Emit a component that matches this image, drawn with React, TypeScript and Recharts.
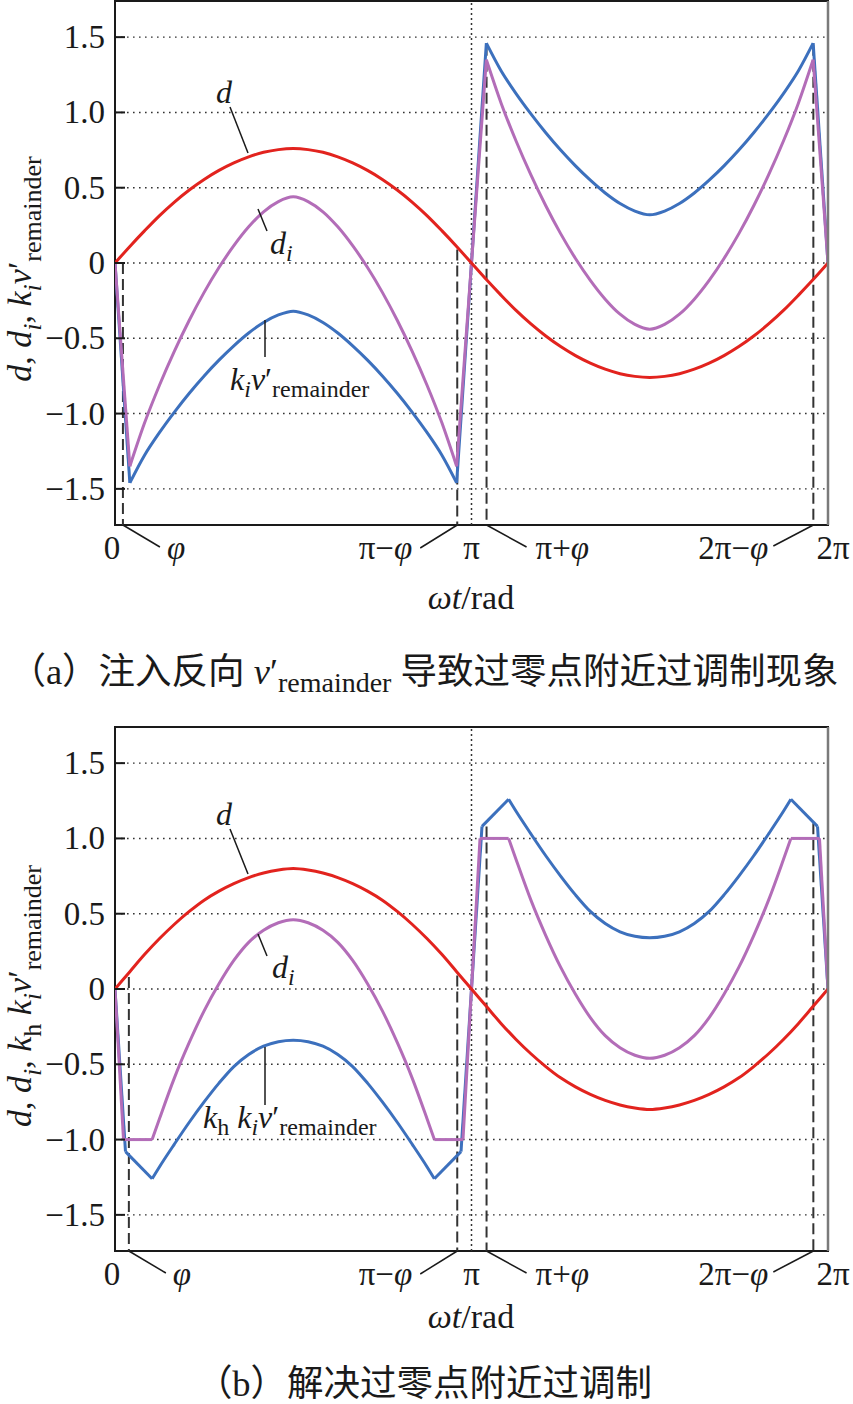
import React from "react";
import {
  LineChart,
  Line,
  XAxis,
  YAxis,
  CartesianGrid,
  ReferenceLine,
  ReferenceArea,
} from "recharts";

const SERIF =
  "'Liberation Serif', 'Times New Roman', Tinos, 'DejaVu Serif', 'Noto Serif', serif";
const CAPTION_FONT =
  "'Liberation Serif', 'Times New Roman', 'DejaVu Serif', 'Noto Sans CJK SC', serif";
const RED = "#e2231e";
const PURPLE = "#b36db8";
const BLUE = "#3c70bd";
const INK = "#1a1a1a";

const Y_MIN = -1.74;
const Y_MAX = 1.74;
const yTicks = [-1.5, -1, -0.5, 0, 0.5, 1, 1.5];
const yTickLabels = ["−1.5", "−1.0", "−0.5", "0", "0.5", "1.0", "1.5"];
const xTickLabels = ["0", "φ", "π−φ", "π", "π+φ", "2π−φ", "2π"];
const xTicksA = [0, 4, 172.8, 180, 187.6, 352.6, 360];
const xTicksB = [0, 7, 172.8, 180, 187.6, 352.6, 360];
// upper end of each dashed marker (lower end is the axis)
const dashTopA = [0, 0.09, 1.45, 1.45];
const dashTopB = [0.08, 0.09, 1.08, 1.1];

// ωt in degrees
const xGrid = [
  0, 7.5, 15, 22.5, 30, 37.5, 45, 52.5, 60, 67.5, 75, 82.5, 90, 97.5, 105,
  112.5, 120, 127.5, 135, 142.5, 150, 157.5, 165, 172.5, 180, 187.5, 195,
  202.5, 210, 217.5, 225, 232.5, 240, 247.5, 255, 262.5, 270, 277.5, 285,
  292.5, 300, 307.5, 315, 322.5, 330, 337.5, 345, 352.5, 360,
];

// panel (a)
const dA = [
  0, 0.11, 0.215, 0.315, 0.405, 0.485, 0.555, 0.615, 0.665, 0.705, 0.735,
  0.753, 0.76, 0.753, 0.735, 0.705, 0.665, 0.615, 0.555, 0.485, 0.405, 0.315,
  0.215, 0.11, 0, -0.11, -0.215, -0.315, -0.405, -0.485, -0.555, -0.615, -0.665,
  -0.705, -0.735, -0.753, -0.76, -0.753, -0.735, -0.705, -0.665, -0.615, -0.555,
  -0.485, -0.405, -0.315, -0.215, -0.11, 0,
];
const diA = [
  0, -1.35, -1.06, -0.81, -0.585, -0.38, -0.195, -0.03, 0.115, 0.24, 0.34,
  0.408, 0.44, 0.408, 0.34, 0.24, 0.115, -0.03, -0.195, -0.38, -0.585, -0.81,
  -1.06, -1.35, 0, 1.35, 1.06, 0.81, 0.585, 0.38, 0.195, 0.03, -0.115, -0.24,
  -0.34, -0.408, -0.44, -0.408, -0.34, -0.24, -0.115, 0.03, 0.195, 0.38, 0.585,
  0.81, 1.06, 1.35, 0,
];
const kvA = [
  0, -1.46, -1.275, -1.125, -0.99, -0.865, -0.75, -0.645, -0.55, -0.465,
  -0.395, -0.345, -0.32, -0.345, -0.395, -0.465, -0.55, -0.645, -0.75, -0.865,
  -0.99, -1.125, -1.275, -1.46, 0, 1.46, 1.275, 1.125, 0.99, 0.865, 0.75, 0.645,
  0.55, 0.465, 0.395, 0.345, 0.32, 0.345, 0.395, 0.465, 0.55, 0.645, 0.75,
  0.865, 0.99, 1.125, 1.275, 1.46, 0,
];
const cornersA = [1, 23, 25, 47];

// panel (b)
const dB = [
  0, 0.115, 0.23, 0.335, 0.43, 0.515, 0.59, 0.65, 0.7, 0.74, 0.77, 0.79, 0.8,
  0.79, 0.77, 0.74, 0.7, 0.65, 0.59, 0.515, 0.43, 0.335, 0.23, 0.115, 0, -0.115,
  -0.23, -0.335, -0.43, -0.515, -0.59, -0.65, -0.7, -0.74, -0.77, -0.79, -0.8,
  -0.79, -0.77, -0.74, -0.7, -0.65, -0.59, -0.515, -0.43, -0.335, -0.23, -0.115,
  0,
];
const diBx = [
  0, 4.3, 18.75, 22.5, 30, 37.5, 45, 52.5, 60, 67.5, 75, 82.5, 90, 97.5, 105,
  112.5, 120, 127.5, 135, 142.5, 150, 157.5, 161.25, 175.7, 180, 184.3, 198.75,
  202.5, 210, 217.5, 225, 232.5, 240, 247.5, 255, 262.5, 270, 277.5, 285, 292.5,
  300, 307.5, 315, 322.5, 330, 337.5, 341.25, 355.7, 360,
];
const diB = [
  0, -1, -1, -0.86, -0.59, -0.355, -0.145, 0.035, 0.19, 0.31, 0.39, 0.44, 0.46,
  0.44, 0.39, 0.31, 0.19, 0.035, -0.145, -0.355, -0.59, -0.86, -1, -1, 0, 1, 1,
  0.86, 0.59, 0.355, 0.145, -0.035, -0.19, -0.31, -0.39, -0.44, -0.46, -0.44,
  -0.39, -0.31, -0.19, -0.035, 0.145, 0.355, 0.59, 0.86, 1, 1, 0,
];
const kvBx = [
  0, 5.3, 18.75, 22.5, 30, 37.5, 45, 52.5, 60, 67.5, 75, 82.5, 90, 97.5, 105,
  112.5, 120, 127.5, 135, 142.5, 150, 157.5, 161.25, 174.7, 180, 185.3, 198.75,
  202.5, 210, 217.5, 225, 232.5, 240, 247.5, 255, 262.5, 270, 277.5, 285, 292.5,
  300, 307.5, 315, 322.5, 330, 337.5, 341.25, 354.7, 360,
];
const kvB = [
  0, -1.08, -1.26, -1.18, -1.03, -0.885, -0.75, -0.625, -0.515, -0.435, -0.38,
  -0.35, -0.34, -0.35, -0.38, -0.435, -0.515, -0.625, -0.75, -0.885, -1.03,
  -1.18, -1.26, -1.08, 0, 1.08, 1.26, 1.18, 1.03, 0.885, 0.75, 0.625, 0.515,
  0.435, 0.38, 0.35, 0.34, 0.35, 0.38, 0.435, 0.515, 0.625, 0.75, 0.885, 1.03,
  1.18, 1.26, 1.08, 0,
];
const cornersB = [1, 2, 22, 23, 25, 26, 46, 47];

type Pt = { x: number; y: number };
const pts = (xs: number[], ys: number[]): Pt[] =>
  xs.map((x, i) => ({ x, y: ys[i] }));

// split a series at its kinks so the smooth arches stay smooth and the kinks stay sharp
function pieces(data: Pt[], corners: number[]): Pt[][] {
  const cuts = [0, ...corners, data.length - 1];
  const out: Pt[][] = [];
  for (let i = 0; i < cuts.length - 1; i++) {
    out.push(data.slice(cuts[i], cuts[i + 1] + 1));
  }
  return out;
}

// how each x tick label sits relative to its tick: leader line end and text offset
const tickLayout = [
  { lead: null, dx: -3, anchor: "middle" },
  { lead: [37, 22], dx: 44, anchor: "start" },
  { lead: [-37, 23], dx: -45, anchor: "end" },
  { lead: null, dx: 0, anchor: "middle" },
  { lead: [40, 22], dx: 49, anchor: "start" },
  { lead: [-40, 21], dx: -45, anchor: "end" },
  { lead: null, dx: 5, anchor: "middle" },
];

function tickText(label: string) {
  return label.split("").map((ch, i) => (
    <tspan key={i} fontStyle={ch === "φ" ? "italic" : "normal"}>
      {ch}
    </tspan>
  ));
}

const makeXTick = (ticks: number[]) => (props: any) => {
  const { x, y, payload } = props;
  const idx = ticks.indexOf(payload.value);
  const lay = tickLayout[idx] || tickLayout[0];
  return (
    <g>
      {lay.lead && (
        <line
          x1={x}
          y1={y}
          x2={x + lay.lead[0]}
          y2={y + lay.lead[1]}
          stroke={INK}
          strokeWidth={1.5}
        />
      )}
      <text
        x={x + lay.dx}
        y={y + 34}
        textAnchor={lay.anchor}
        style={{ fontFamily: SERIF }}
        fontSize={33}
        fill={INK}
      >
        {tickText(xTickLabels[idx] ?? "")}
      </text>
    </g>
  );
};

const YTick = (props: any) => {
  const { x, y, payload } = props;
  const idx = yTicks.indexOf(payload.value);
  return (
    <g>
      <line x1={x} y1={y} x2={x + 10} y2={y} stroke={INK} strokeWidth={2} />
      <text
        x={x - 10}
        y={y + 11}
        textAnchor="end"
        style={{ fontFamily: SERIF }}
        fontSize={33}
        fill={INK}
      >
        {yTickLabels[idx]}
      </text>
    </g>
  );
};

interface PanelProps {
  top: number;
  xTicks: number[];
  dashTop: number[];
  d: Pt[];
  di: Pt[];
  kv: Pt[];
  corners: number[];
}

function Panel({ top, xTicks, dashTop, d, di, kv, corners }: PanelProps) {
  const dashX = [xTicks[1], xTicks[2], xTicks[4], xTicks[5]];
  const series = [
    { color: BLUE, parts: pieces(kv, corners) },
    { color: PURPLE, parts: pieces(di, corners) },
    { color: RED, parts: [d] },
  ];
  return (
    <div style={{ position: "absolute", left: 0, top }}>
      <LineChart
        width={853}
        height={572}
        margin={{ top: 2, right: 25, bottom: 0, left: 0 }}
      >
        <CartesianGrid
          vertical={false}
          stroke="#333"
          strokeDasharray="1.6 4.4"
          strokeWidth={1.4}
        />
        <XAxis
          dataKey="x"
          type="number"
          domain={[0, 360]}
          ticks={xTicks}
          interval={0}
          height={46}
          tickSize={0}
          tickMargin={0}
          axisLine={false}
          tickLine={false}
          tick={makeXTick(xTicks)}
          allowDataOverflow
        />
        <YAxis
          type="number"
          domain={[Y_MIN, Y_MAX]}
          ticks={yTicks}
          interval={0}
          width={115}
          tickSize={0}
          tickMargin={0}
          axisLine={false}
          tickLine={false}
          tick={<YTick />}
          allowDataOverflow
        />
        <ReferenceLine
          x={180}
          stroke="#333"
          strokeDasharray="2 3"
          strokeWidth={1.5}
        />
        {dashX.map((x, i) => (
          <ReferenceLine
            key={i}
            segment={[
              { x, y: dashTop[i] },
              { x, y: Y_MIN },
            ]}
            stroke="#333"
            strokeDasharray="11 5"
            strokeWidth={2}
          />
        ))}
        {series.map((s, si) =>
          s.parts.map((p, pi) => (
            <Line
              key={`${si}-${pi}`}
              data={p}
              dataKey="y"
              type="monotone"
              stroke={s.color}
              strokeWidth={3}
              dot={false}
              isAnimationActive={false}
            />
          ))
        )}
        <ReferenceArea
          x1={0}
          x2={360}
          y1={Y_MIN}
          y2={Y_MAX}
          fill="none"
          fillOpacity={0}
          stroke={INK}
          strokeWidth={2}
        />
        <ReferenceLine x={360} stroke="#7a7a7a" strokeWidth={2.5} />
      </LineChart>
    </div>
  );
}

const It = ({ children }: { children: React.ReactNode }) => (
  <tspan fontStyle="italic">{children}</tspan>
);

function Annotations() {
  const lead = { stroke: INK, strokeWidth: 1.5 };
  const txt = { style: { fontFamily: SERIF }, fontSize: 32, fill: INK };
  return (
    <svg
      width={853}
      height={1404}
      style={{ position: "absolute", left: 0, top: 0, pointerEvents: "none" }}
    >
      {/* y-axis titles */}
      <text
        transform="rotate(-90 31 269)"
        x={31}
        y={269}
        textAnchor="middle"
        style={{ fontFamily: SERIF }}
        fontSize={34}
        fill={INK}
      >
        <It>d</It>,{" "}<It>d</It>
        <tspan dy={10} fontSize={26} fontStyle="italic">i</tspan>
        <tspan dy={-10}>, </tspan>
        <It>k</It>
        <tspan dy={10} fontSize={26} fontStyle="italic">i</tspan>
        <tspan dy={-10} fontStyle="italic">v</tspan>
        <tspan>′</tspan>
        <tspan dy={10} fontSize={26}>remainder</tspan>
      </text>
      <text
        transform="rotate(-90 31 996)"
        x={31}
        y={996}
        textAnchor="middle"
        style={{ fontFamily: SERIF }}
        fontSize={34}
        fill={INK}
      >
        <It>d</It>,{" "}<It>d</It>
        <tspan dy={10} fontSize={26} fontStyle="italic">i</tspan>
        <tspan dy={-10}>, </tspan>
        <It>k</It>
        <tspan dy={10} fontSize={26}>h</tspan>
        <tspan dy={-10}> </tspan>
        <It>k</It>
        <tspan dy={10} fontSize={26} fontStyle="italic">i</tspan>
        <tspan dy={-10} fontStyle="italic">v</tspan>
        <tspan>′</tspan>
        <tspan dy={10} fontSize={26}>remainder</tspan>
      </text>

      {/* panel (a) curve labels */}
      <line x1={230} y1={107} x2={248} y2={153} {...lead} />
      <text x={216} y={103} {...txt}>
        <It>d</It>
      </text>
      <line x1={258} y1={209} x2={267} y2={231} {...lead} />
      <text x={270} y={254} {...txt}>
        <It>d</It>
        <tspan dy={7} fontSize={24} fontStyle="italic">i</tspan>
      </text>
      <line x1={265} y1={320} x2={265} y2={357} {...lead} />
      <text x={230} y={390} {...txt}>
        <It>k</It>
        <tspan dy={7} fontSize={24} fontStyle="italic">i</tspan>
        <tspan dy={-7} fontStyle="italic">v</tspan>
        <tspan>′</tspan>
        <tspan dy={7} fontSize={24}>remainder</tspan>
      </text>

      {/* panel (b) curve labels */}
      <line x1={230} y1={829} x2={248} y2={874} {...lead} />
      <text x={216} y={825} {...txt}>
        <It>d</It>
      </text>
      <line x1={258} y1={934} x2={267} y2={956} {...lead} />
      <text x={272} y={978} {...txt}>
        <It>d</It>
        <tspan dy={7} fontSize={24} fontStyle="italic">i</tspan>
      </text>
      <line x1={265} y1={1047} x2={265} y2={1105} {...lead} />
      <text x={203} y={1128} {...txt}>
        <It>k</It>
        <tspan dy={7} fontSize={24}>h</tspan>
        <tspan dy={-7}> </tspan>
        <It>k</It>
        <tspan dy={7} fontSize={24} fontStyle="italic">i</tspan>
        <tspan dy={-7} fontStyle="italic">v</tspan>
        <tspan>′</tspan>
        <tspan dy={7} fontSize={24}>remainder</tspan>
      </text>

      {/* x-axis titles */}
      <text x={471} y={609} textAnchor="middle" {...txt} fontSize={34}>
        <It>ωt</It>/rad
      </text>
      <text x={471} y={1328} textAnchor="middle" {...txt} fontSize={34}>
        <It>ωt</It>/rad
      </text>

      {/* captions */}
      <text
        x={424}
        y={684}
        textAnchor="middle"
        style={{ fontFamily: CAPTION_FONT }}
        fontSize={36.5}
        fill={INK}
      >
        （a）注入反向 <It>v</It>
        <tspan>′</tspan>
        <tspan dy={8} fontSize={28}>remainder</tspan>
        <tspan dy={-8}> 导致过零点附近过调制现象</tspan>
      </text>
      <text
        x={424}
        y={1396}
        textAnchor="middle"
        style={{ fontFamily: CAPTION_FONT }}
        fontSize={36.5}
        fill={INK}
      >
        （b）解决过零点附近过调制
      </text>
    </svg>
  );
}

export default function App() {
  return (
    <div
      style={{
        position: "absolute",
        left: 0,
        top: 0,
        width: 853,
        height: 1404,
        background: "#fff",
        overflow: "hidden",
      }}
    >
      <Panel
        top={-1}
        xTicks={xTicksA}
        dashTop={dashTopA}
        d={pts(xGrid, dA)}
        di={pts(xGrid, diA)}
        kv={pts(xGrid, kvA)}
        corners={cornersA}
      />
      <Panel
        top={725}
        xTicks={xTicksB}
        dashTop={dashTopB}
        d={pts(xGrid, dB)}
        di={pts(diBx, diB)}
        kv={pts(kvBx, kvB)}
        corners={cornersB}
      />
      <Annotations />
    </div>
  );
}
